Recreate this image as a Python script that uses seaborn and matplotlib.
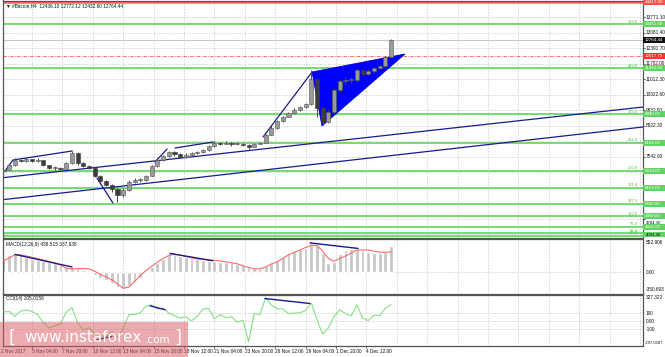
import matplotlib
matplotlib.use('Agg')
import matplotlib.pyplot as plt
import matplotlib.transforms as mtransforms
from matplotlib.patches import Polygon, Rectangle
import seaborn as sns

# ---------------- data ----------------
# H4 bar index counted from 2 Nov 2017 00:00, one sample every 12 hours
bar_idx = list(range(4, 209, 3))
first_open = 6900
close = [6963, 7186, 7408, 7364, 7453, 7364, 7408, 7186, 7052, 7052, 7008, 7274, 7720, 7274,
         7141, 7052, 6696, 6474, 6296, 6118, 5850, 6073, 6429, 6518, 6518, 6696, 7141, 7408,
         7586, 7764, 7675, 7542, 7631, 7720, 7764, 7853, 8031, 8164, 8120, 8164, 8120, 8120,
         8076, 7987, 8120, 8164, 8520, 8832, 9143, 9322, 9500, 9633, 9766, 9900, 11000, 9722,
         9099, 9544, 10523, 10924, 10968, 10968, 11413, 11235, 11368, 11502, 11591, 11990, 12764]
high = [7050, 7250, 7480, 7450, 7500, 7460, 7480, 7420, 7200, 7120, 7100, 7320, 7830, 7750,
        7320, 7200, 7080, 6720, 6520, 6350, 6150, 6150, 6500, 6620, 6600, 6750, 7180, 7460,
        7640, 7830, 7800, 7700, 7700, 7760, 7820, 7900, 8080, 8250, 8230, 8240, 8210, 8200,
        8160, 8110, 8180, 8230, 8560, 8900, 9200, 9380, 9560, 9700, 9820, 9960, 11400, 11050,
        9780, 9650, 10600, 11000, 11100, 11100, 11500, 11450, 11450, 11560, 11650, 12020, 12772]
low = [6900, 6950, 7150, 7300, 7330, 7320, 7330, 7150, 7000, 6980, 6950, 6990, 7250, 7200,
       7100, 7000, 6650, 6420, 6230, 6000, 5540, 5750, 6050, 6400, 6440, 6480, 6690, 7100,
       7380, 7560, 7600, 7480, 7500, 7600, 7680, 7730, 7830, 8000, 8080, 8100, 8050, 8060,
       8020, 7900, 7970, 8100, 8150, 8500, 8800, 9100, 9300, 9450, 9600, 9700, 9850, 9300,
       8950, 9050, 9500, 10450, 10800, 10850, 10900, 11150, 11200, 11300, 11450, 11550, 11980]
macd_hist = [240, 280, 313, 290, 250, 225, 210, 190, 172, 150, 118, 88, 85, 65,
             40, 5, -40, -88, -130, -180, -240, -280, -230, -160, -85, -5, 90, 160,
             228, 300, 300, 272, 250, 235, 228, 205, 195, 180, 170, 170, 165, 135,
             115, 90, 70, 58, 100, 150, 199, 260, 313, 360, 390, 408, 480, 450,
             320, 160, 170, 300, 375, 386, 380, 369, 340, 320, 313, 330, 438]
macd_signal = [190, 240, 290, 290, 270, 250, 228, 205, 180, 155, 120, 70, 60, 62,
               65, 58, 20, -30, -75, -120, -190, -260, -240, -150, -50, 30, 100, 170,
               230, 280, 300, 285, 262, 240, 220, 215, 205, 199, 190, 175, 160, 143,
               110, 80, 60, 58, 90, 140, 175, 230, 290, 330, 369, 410, 442, 442,
               350, 230, 185, 230, 270, 320, 369, 369, 369, 350, 335, 330, 338]
cci = [115, 120, 62, 125, 140, 120, 83, -21, -83, -55, -30, 110, 167, -21,
       -104, -80, -150, -180, -190, -125, -200, -90, 83, 85, 104, 187, 200, 150,
       160, 100, 70, 40, 55, 5, 62, 150, 160, 30, 83, 45, 55, -10, 10, -250,
       95, 83, 290, 200, 155, 150, 95, 100, 104, 130, 225, 20, -160, -80, 60, 140,
       95, 65, 200, 40, 10, 75, 70, 160, 205]

time_tick_bars = [19, 35, 51, 67, 83, 99, 115, 131, 147, 163, 179, 195]
time_tick_labels = ['5 Nov 04:00', '7 Nov 20:00', '10 Nov 12:00', '13 Nov 04:00', '15 Nov 20:00',
                    '18 Nov 12:00', '21 Nov 04:00', '23 Nov 20:00', '26 Nov 12:00', '29 Nov 04:00',
                    '1 Dec 20:00', '4 Dec 12:00']
first_time_label = '2 Nov 2017'

# price grid levels; labels only for those not covered by the level boxes
price_grid = [13771.10, 13081.40, 12391.70, 11702.00, 11012.30, 10322.60, 9632.90, 8922.30,
              8232.60, 7542.90, 6853.20, 6163.50, 5473.80, 4784.30, 4094.40]
price_tick_labels = [13771.10, 13081.40, 12391.70, 11702.00, 11012.30, 10322.60, 9632.90, 8922.30,
                     7542.90]
price_low_label = 4784.30
price_bottom_label = 4094.40

fib_levels = [13451.0, 11493.0, 9445.0, 8164.0, 6918.0, 6162.0, 5450.0, 4900.0, 4426.0, 4146.0, 4030.0]
fib_pct = ['523.6', '423.6', '323.6', '261.8', '200.0', '161.8', '127.2', '100.0', '76.4', '61.8', '50.0']

resistance_level = 14417.00
last_price = 12764.44
alert_level = 12017.79
header = '\u25bc #Bitcoin,H4  12436.10 12772.12 12432.60 12764.44'
macd_title = 'MACD(12,26,9) 438.515 337.638'
cci_title = 'CCI(14) 205.0156'
macd_range = (-350.693, 552.906)
cci_range = (-297.0587, 327.322)

# annotation lines: (bars, prices)
trend_lines = [
    ([2.2, 340.6], [6607, 9766]),
    ([2.2, 340.6], [5628, 8877]),
    ([4.8, 9.0, 40.1], [6918, 7408, 7808]),
    ([53.2, 61.6], [6607, 5494]),
    ([83.7, 90.1], [7319, 7898]),
    ([94.3, 114.3], [7942, 8209]),
    ([140.6, 166.4], [8432, 11324]),
]
wedge_bars = [166.4, 171.6, 215.3]
wedge_prices = [11324, 8921, 12125]
macd_div = [([10.1, 40.1], [296, 90]), ([91.6, 114.3], [313, 192]), ([165.3, 190.6], [485, 395])]
cci_div = [([81.1, 89.0], [190, 142]), ([53.2, 61.1], [-227, -185]), ([141.6, 165.3], [279, 218])]

# ---------------- figure ----------------
sns.set_theme(style='white')
plt.rcParams['font.family'] = ['Liberation Sans', 'DejaVu Sans']

W, H = 665, 357
fig = plt.figure(figsize=(W / 100, H / 100), dpi=100)
fig.patch.set_facecolor('white')

def axpx(x0, y0, x1, y1):
    return fig.add_axes([x0 / W, 1 - y1 / H, (x1 - x0) / W, (y1 - y0) / H])

ax = axpx(3, 0.5, 643, 237.5)
axm = axpx(3, 238.8, 643, 293.8)
axc = axpx(3, 294.6, 643, 345.5)

XL = (3.74, 340.58)
grid_bars = list(range(19, 341, 16))
GRID = dict(color='#c4c4c4', lw=0.5, ls=(0, (2, 2)), zorder=0)
FS = 3.4

for a in (ax, axm, axc):
    a.set_facecolor('white')
    a.set_xlim(*XL)
    a.set_xticks([])
    a.set_yticks([])
    for s in a.spines.values():
        s.set_color('#555555')
        s.set_linewidth(0.9)
    for b in grid_bars:
        a.axvline(b, **GRID)

# ---- main price panel ----
ax.set_ylim(3959, 14506)
for v in price_grid:
    ax.axhline(v, **GRID)

for lv in fib_levels:
    ax.axhline(lv, color='#74dc74', lw=1.4, zorder=1)

ax.axhline(resistance_level, color='#ff6464', lw=1.8, zorder=1)
ax.axhline(last_price, color='#c8c8c8', lw=0.8, zorder=1)
ax.axhline(alert_level, color='#ff5050', lw=0.6, ls=(0, (4, 1.5, 1, 1.5)), zorder=1)

for xs, ys in trend_lines:
    ax.plot(xs, ys, color='#1a1a8c', lw=0.9, zorder=2)
ax.add_patch(Polygon(list(zip(wedge_bars, wedge_prices)), closed=True,
                     facecolor='#0000ff', edgecolor='#0000cc', lw=0.6, zorder=2))

opens = [first_open] + close[:-1]
ax.vlines(bar_idx, low, high, color='#4a4a4a', lw=0.7, zorder=3)
up_b = [b for b, o, c in zip(bar_idx, opens, close) if c >= o]
up_lo = [o for o, c in zip(opens, close) if c >= o]
up_h = [max(c - o, 30) for o, c in zip(opens, close) if c >= o]
dn_b = [b for b, o, c in zip(bar_idx, opens, close) if c < o]
dn_lo = [c for o, c in zip(opens, close) if c < o]
dn_h = [max(o - c, 30) for o, c in zip(opens, close) if c < o]
ax.bar(up_b, up_h, bottom=up_lo, width=2.2, color='#9a9a9a', edgecolor='#555555', lw=0.4, zorder=4)
ax.bar(dn_b, dn_h, bottom=dn_lo, width=2.2, color='#3c3c3c', edgecolor='#3c3c3c', lw=0.4, zorder=4)

bl = mtransforms.blended_transform_factory(ax.transAxes, ax.transData)
for v in price_grid:
    ax.plot([1, 1 + 2 / 640], [v, v], transform=bl, color='#333', lw=0.5, clip_on=False)
for v in price_tick_labels:
    ax.text(1 + 3 / 640, v, f'{v:.2f}', transform=bl, fontsize=FS, va='center', ha='left', color='#111')
bl_down = mtransforms.offset_copy(bl, fig=fig, x=0, y=-1.2, units='points')
ax.text(1 + 3 / 640, price_low_label, f'{price_low_label:.2f}', transform=bl_down, fontsize=3.1,
        va='top', ha='left', color='#111', zorder=12)
ax.text(1 + 3 / 640, 0.002, f'{price_bottom_label:.2f}', transform=ax.transAxes, fontsize=3.1,
        va='bottom', ha='left', color='#111', zorder=12)

px = 44.5  # price per pixel

def box(a, tr, v, text, fc, tc='white', hpx=6):
    a.add_patch(Rectangle((1.0, v - hpx / 2 * px), 22 / 640, hpx * px, transform=tr,
                          facecolor=fc, edgecolor='none', clip_on=False, zorder=10))
    a.text(1 + 2 / 640, v, text, transform=tr, fontsize=3.2, va='center', ha='left', color=tc,
           zorder=11, clip_on=False)

for lv in fib_levels[:-2]:
    box(ax, bl, lv, f'{lv:.2f}', '#62d262')
for lv, pct in zip(fib_levels, fib_pct):
    ax.text(635 / 640, lv + 0.6 * px, pct, transform=bl, fontsize=3.0, ha='right', va='bottom',
            color='#44c044', zorder=5)
for lv in fib_levels[-2:]:
    ax.add_patch(Rectangle((1.0, lv - 1.5 * px), 22 / 640, 3 * px, transform=bl,
                           facecolor='#62d262', edgecolor='none', clip_on=False, zorder=10))
box(ax, bl, resistance_level, f'{resistance_level:.2f}', '#ff5050')
box(ax, bl, last_price, f'{last_price:.2f}', '#111111')
box(ax, bl, alert_level, f'{alert_level:.2f}', '#ff3030')

ax.text(3 / 640, 0.978, header, transform=ax.transAxes, fontsize=FS, va='center', ha='left', color='#111')

# ---- MACD panel ----
axm.set_ylim(*macd_range)
axm.axhline(0, **GRID)
axm.bar(bar_idx, macd_hist, width=2.0, color='#c4c4c4', zorder=2)
sns.lineplot(x=bar_idx, y=macd_signal, ax=axm, color='#ff6a6a', lw=0.8, zorder=3)
for xs, ys in macd_div:
    axm.plot(xs, ys, color='#1a1a8c', lw=1.0, zorder=4)
axm.set_xlabel('')
axm.set_ylabel('')
axm.set_xticks([])
axm.set_yticks([])
axm.set_xlim(*XL)
axm.text(3 / 640, 0.9, macd_title, transform=axm.transAxes, fontsize=FS, va='center', ha='left', color='#111')
axm.text(1 + 3 / 640, 0.93, f'{macd_range[1]:.3f}', transform=axm.transAxes, fontsize=FS, va='center', color='#111')
blm = mtransforms.blended_transform_factory(axm.transAxes, axm.transData)
axm.text(1 + 3 / 640, 0, '0.00', transform=blm, fontsize=FS, va='center', color='#111')
axm.text(1 + 3 / 640, 0.08, f'{macd_range[0]:.3f}', transform=axm.transAxes, fontsize=FS, va='center', color='#111')

# ---- CCI panel ----
axc.set_ylim(*cci_range)
for v in (100, 0, -100):
    axc.axhline(v, **GRID)
sns.lineplot(x=bar_idx, y=cci, ax=axc, color='#86e086', lw=0.8, zorder=3)
for xs, ys in cci_div:
    axc.plot(xs, ys, color='#1a1a8c', lw=1.0, zorder=4)
axc.set_xlabel('')
axc.set_ylabel('')
axc.set_xticks([])
axc.set_yticks([])
axc.set_xlim(*XL)
axc.text(3 / 640, 0.92, cci_title, transform=axc.transAxes, fontsize=FS, va='center', ha='left', color='#111')
blc = mtransforms.blended_transform_factory(axc.transAxes, axc.transData)
axc.text(1 + 3 / 640, 0.94, f'{cci_range[1]:.3f}', transform=axc.transAxes, fontsize=FS, va='center', color='#111')
for v, t in ((100, '100'), (0, '0.00'), (-100, '-100')):
    axc.text(1 + 3 / 640, v, t, transform=blc, fontsize=FS, va='center', color='#111')
axc.text(1 + 2 / 640, 0.05, f'{cci_range[0]:.4f}', transform=axc.transAxes, fontsize=3.0, va='center', color='#111')

# ---- time axis labels ----
btc = mtransforms.blended_transform_factory(axc.transData, axc.transAxes)
axc.text(XL[0] - 1, -0.11, first_time_label, transform=btc, fontsize=FS, va='center', ha='left',
         color='#111', clip_on=False)
for b, t in zip(time_tick_bars, time_tick_labels):
    axc.text(b, -0.11, t, transform=btc, fontsize=FS, va='center', ha='left', color='#111', clip_on=False)
    axc.plot([b, b], [0, -0.04], transform=btc, color='#333', lw=0.5, clip_on=False)

# ---- watermark ----
fig.add_artist(Rectangle((0, 0), 188 / W, 35 / H, transform=fig.transFigure,
                         facecolor=(0.86, 0.35, 0.38, 0.5), edgecolor='none', zorder=20))
wm_y = 1 - 338 / H
fig.text(9 / W, wm_y, '[', fontsize=13, color='white', va='center', ha='left', zorder=21,
         family='DejaVu Sans')
fig.text(24 / W, wm_y, 'www.instaforex', fontsize=11, color='white', va='center', ha='left', zorder=21,
         family='DejaVu Sans')
fig.text(145 / W, wm_y - 0.006, '.com', fontsize=7.5, color='white', va='center', ha='left', zorder=21,
         family='DejaVu Sans')
fig.text(174 / W, wm_y, ']', fontsize=13, color='white', va='center', ha='left', zorder=21,
         family='DejaVu Sans')

fig.savefig('out.png', dpi=100, facecolor='white')
